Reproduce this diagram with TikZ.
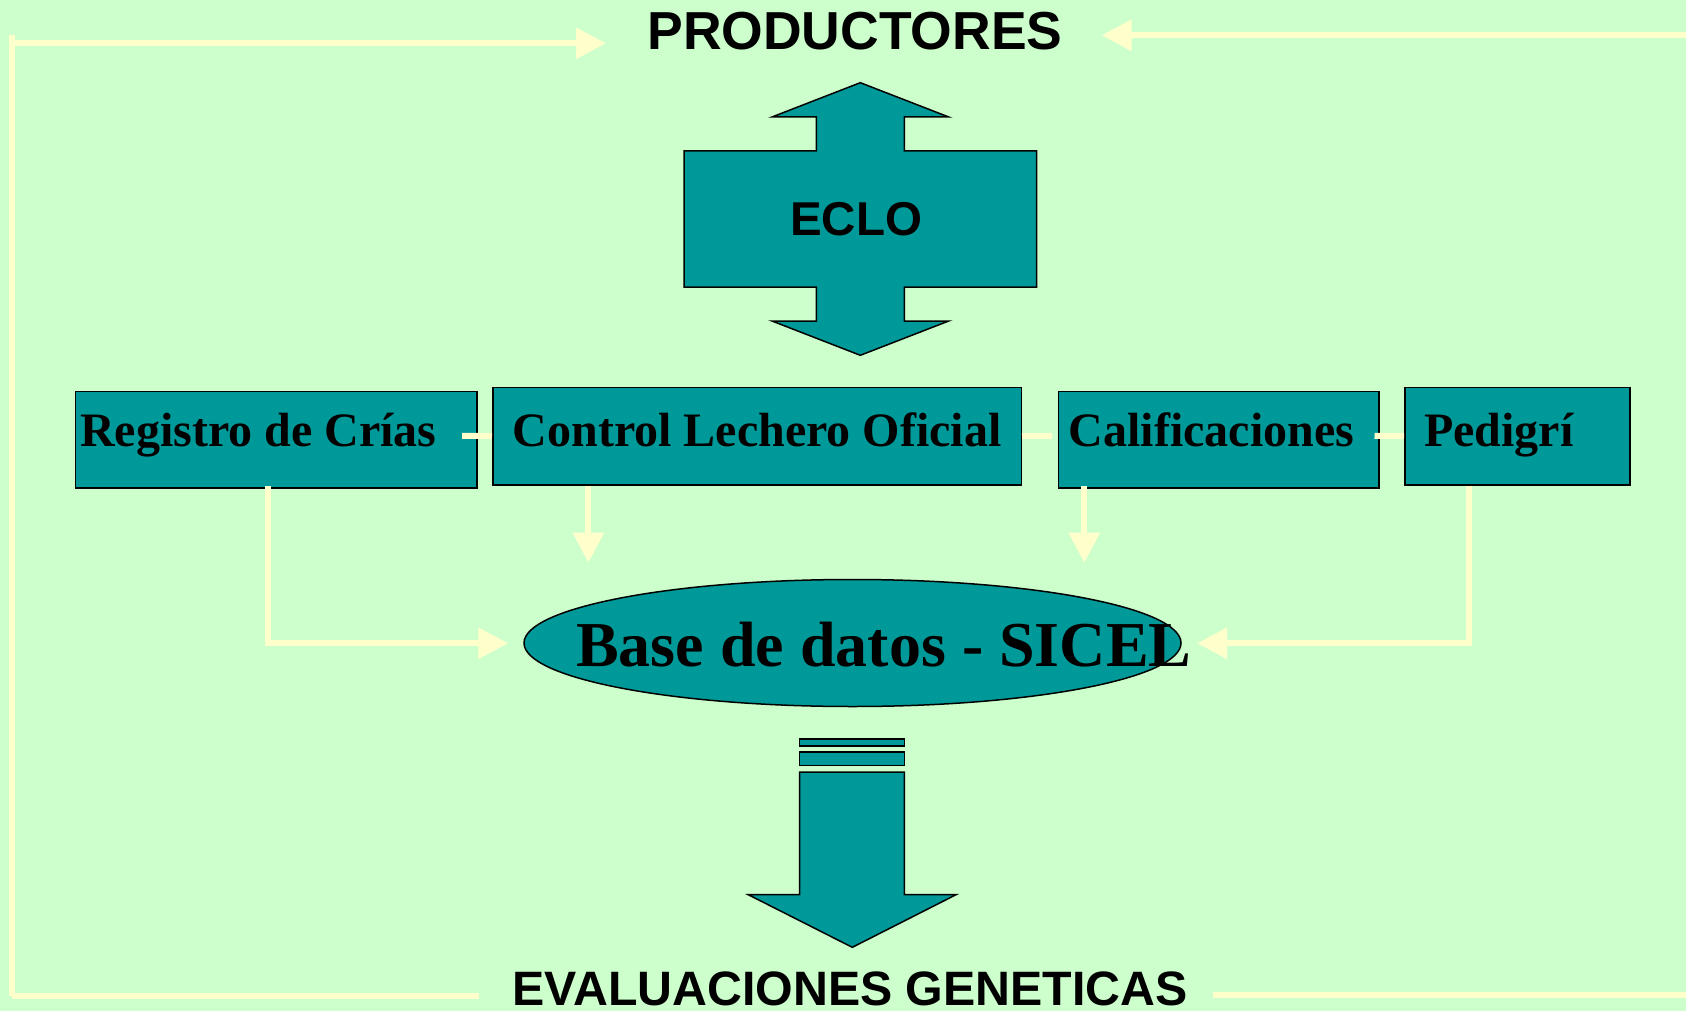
\documentclass[tikz,border=0pt]{standalone}
\usepackage{fontspec}
\setmainfont{Liberation Serif}
\newfontfamily\arialf{Liberation Sans}
\usetikzlibrary{arrows.meta,shapes.geometric,calc}
\definecolor{bgc}{HTML}{CCFFCC}
\definecolor{tealf}{HTML}{009999}
\definecolor{conc}{HTML}{FFFFCC}
\begin{document}
\begin{tikzpicture}[x=1pt,y=-1pt,
  box/.style={draw=black, line width=1.5pt, fill=tealf, rectangle, inner sep=0pt, anchor=north west},
  boxtext/.style={font=\bfseries\fontsize{48}{56}\selectfont, anchor=base west, inner sep=0pt},
  headtext/.style={font=\arialf\bfseries\fontsize{53.5}{60}\selectfont, anchor=base, inner sep=0pt},
  midtext/.style={font=\arialf\bfseries\fontsize{47.5}{56}\selectfont, anchor=base, inner sep=0pt},
  conn/.style={draw=conc, line width=6pt},
  arr/.style={conn, -{Triangle[length=30pt,width=30pt]}},
  shapef/.style={draw=black, line width=1.5pt, fill=tealf, line join=miter}
]
\fill[bgc] (0,0) rectangle (1686,1011);
\useasboundingbox (0,0) rectangle (1686,1011);

% titles
\node[headtext] (prod) at (855,50) {PRODUCTORES};
\node[midtext, font=\arialf\bfseries\fontsize{48.3}{56}\selectfont] (eval) at (850,1005) {EVALUACIONES GENETICAS};

% ECLO double arrow
\draw[shapef] (860.3,82.7) -- (948.7,117) -- (904.3,117) -- (904.3,151) -- (1036.7,151)
  -- (1036.7,287) -- (904.3,287) -- (904.3,321) -- (948.7,321) -- (860.3,355.3)
  -- (772,321) -- (816.3,321) -- (816.3,287) -- (684,287) -- (684,151)
  -- (816.3,151) -- (816.3,117) -- (772,117) -- cycle;
\node[midtext] (eclo) at (856,235.7) {ECLO};

% boxes
\node[box, minimum width=401.3pt, minimum height=96.6pt] (reg) at (74.7,390.7) {};
\node[box, minimum width=528.5pt, minimum height=97.3pt] (ctl) at (492,386.7) {};
\node[box, minimum width=320.8pt, minimum height=96.6pt] (cal) at (1057.5,390.7) {};
\node[box, minimum width=225.4pt, minimum height=97.3pt] (ped) at (1404,386.7) {};
\node[boxtext] (regt) at (80,446) {Registro de Crías};
\node[boxtext] (ctlt) at (512.5,446) {Control Lechero Oficial};
\node[boxtext] (calt) at (1068.7,446) {Calificaciones};
\node[boxtext] (pedt) at (1424,446) {Pedigrí};

% database ellipse
\node[ellipse, draw=black, line width=1.5pt, fill=tealf, minimum width=657pt, minimum height=127pt, inner sep=0pt] (db) at (852.5,643) {};
\node[font=\bfseries\fontsize{64}{70}\selectfont, anchor=base west, inner sep=0pt] (dbt) at (576,666) {Base de datos - SICEL};

% bottom arrow with bars
\draw[shapef] (799.7,739) rectangle (904.3,746);
\draw[shapef] (799.7,752) rectangle (904.3,765.3);
\draw[shapef] (799.7,772) -- (904.3,772) -- (904.3,894.7) -- (956,894.7) -- (852.3,947.3)
  -- (748.3,894.7) -- (799.7,894.7) -- cycle;

% short links between boxes
\draw[conn] ([xshift=-15.3pt,yshift=4pt]reg.east) -- (ctl.west);
\draw[conn] (ctl.east) -- ([xshift=-5.7pt,yshift=4pt]cal.west);
\draw[conn] ([xshift=-5.3pt,yshift=4pt]cal.east) -- (ped.west);

% down arrows
\coordinate (ctlin) at (588.4,562.7);
\coordinate (calin) at (1084.3,562.7);
\draw[arr] (ctlin |- ctl.south) -- (ctlin);
\draw[arr] (calin |- ctl.south) -- (calin);

% elbow arrows into database
\coordinate (regc) at (268.3,643.3);
\coordinate (pedc) at (1468.6,643.3);
\coordinate (dbl) at (508.3,643.3);
\coordinate (dbr) at (1197,643.3);
\draw[arr] (regc |- ctl.south) -- (regc) -- (dbl);
\draw[arr] (pedc |- ctl.south) -- (pedc) -- (dbr);

% feedback loop lines
\coordinate (prodl) at (606,43.3);
\coordinate (prodr) at (1101.5,35.3);
\coordinate (lc) at (12.3,996);
\coordinate (evl) at (478.5,996);
\coordinate (evr) at (1213,995);
\coordinate (edge) at (1686,995);
\coordinate (edget) at (1686,35.3);
\draw[conn] (12.3,35) -- (lc);
\draw[conn] (lc) -- (evl);
\draw[arr] (12.3,43.3) -- (prodl);
\draw[arr] (edget) -- (prodr);
\draw[conn] (evr) -- (edge);
\end{tikzpicture}
\end{document}
